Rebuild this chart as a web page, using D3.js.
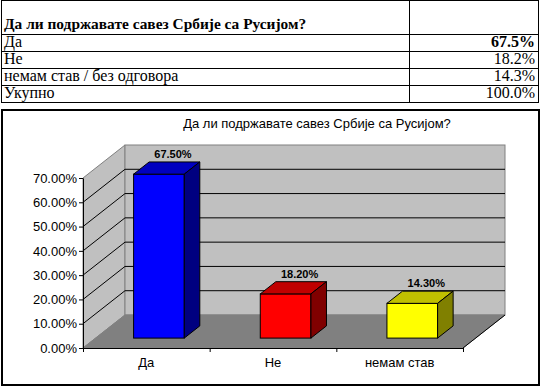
<!DOCTYPE html>
<html>
<head>
<meta charset="utf-8">
<script src="https://cdn.jsdelivr.net/npm/d3@7"></script>
<style>
  body { margin: 0; background: #fff; }
  svg { display: block; }
</style>
</head>
<body>
<div id="chart"></div>
<script>
// table data
var tableTitle = "Да ли подржавате савез Србије са Русијом?";
var tableLabels = ["Да", "Не", "немам став / без одговора", "Укупно"];
var tableValues = ["67.5%", "18.2%", "14.3%", "100.0%"];

// chart data
var chartTitle = "Да ли подржавате савез Србије са Русијом?";
var categories = ["Да", "Не", "немам став"];
var values = [67.5, 18.2, 14.3];
var yTicks = [0, 10, 20, 30, 40, 50, 60, 70];
var frontColors = ["#0000ff", "#ff0000", "#ffff00"];
var topColors = ["#0000c0", "#c00000", "#c0c000"];
var sideColors = ["#000080", "#800000", "#808000"];

var W = 545, H = 389;

var svg = d3.select("#chart").append("svg")
	.attr("width", W)
	.attr("height", H);

// ---- table ----
var rowY = [0, 34, 51, 68, 85, 102];
var tL = 1, tR = 538, tDiv = 409;
var tbl = svg.append("g").attr("font-family", "'Liberation Serif', 'Times New Roman', serif");

tbl.append("rect")
	.attr("x", tL + 0.5).attr("y", 0.5)
	.attr("width", tR - tL).attr("height", rowY[5])
	.attr("fill", "none").attr("stroke", "#000");

tbl.selectAll("line.row")
	.data(rowY.slice(1, 5))
	.enter().append("line")
		.attr("class", "row")
		.attr("x1", tL).attr("x2", tR + 1)
		.attr("y1", function(d) { return d + 0.5; })
		.attr("y2", function(d) { return d + 0.5; })
		.attr("stroke", "#000");

tbl.append("line")
	.attr("x1", tDiv + 0.5).attr("x2", tDiv + 0.5)
	.attr("y1", 0).attr("y2", rowY[5])
	.attr("stroke", "#000");

tbl.append("text")
	.attr("x", 4).attr("y", 29)
	.attr("font-size", 15.4).attr("font-weight", "bold")
	.text(tableTitle);

tbl.selectAll("text.lab")
	.data(tableLabels)
	.enter().append("text")
		.attr("class", "lab")
		.attr("x", 4)
		.attr("y", function(d, i) { return rowY[i + 1] + 13; })
		.attr("font-size", 16)
		.text(function(d) { return d; });

tbl.selectAll("text.val")
	.data(tableValues)
	.enter().append("text")
		.attr("class", "val")
		.attr("x", tR - 3)
		.attr("y", function(d, i) { return rowY[i + 1] + 13; })
		.attr("text-anchor", "end")
		.attr("font-size", 16)
		.attr("font-weight", function(d, i) { return i == 0 ? "bold" : "normal"; })
		.text(function(d) { return d; });

// ---- chart box ----
svg.append("rect")
	.attr("x", 2).attr("y", 110)
	.attr("width", 537).attr("height", 275)
	.attr("fill", "#fff")
	.attr("stroke", "#000")
	.attr("stroke-width", 2);

var g = svg.append("g").attr("font-family", "Arial, 'Liberation Sans', sans-serif");

g.append("text")
	.attr("x", 317).attr("y", 128)
	.attr("text-anchor", "middle")
	.attr("font-size", 13)
	.text(chartTitle);

// scales
var x = d3.scaleBand().domain(categories).range([83, 463]);
var y = d3.scaleLinear().domain([0, 70]).range([348, 178]);
var DX = 42, DY = 33; // depth of the 3d box
function px(xv, d) { return xv + d * DX; }
function py(yv, d) { return yv - d * DY; }

var x0 = x.range()[0], x1 = x.range()[1];
var yb = y(0), yt = y(70);

// walls and floor
g.append("polygon")
	.attr("points", [[x0, yb], [px(x0, 1), py(yb, 1)], [px(x0, 1), py(yt, 1)], [x0, yt]].join(" "))
	.attr("fill", "#c0c0c0").attr("stroke", "#808080");
g.append("rect")
	.attr("x", px(x0, 1)).attr("y", py(yt, 1))
	.attr("width", x1 - x0).attr("height", yb - yt)
	.attr("fill", "#c0c0c0").attr("stroke", "#808080");
g.append("polygon")
	.attr("points", [[x0, yb], [px(x0, 1), py(yb, 1)], [px(x1, 1), py(yb, 1)], [x1, yb]].join(" "))
	.attr("fill", "#808080").attr("stroke", "#808080");

// gridlines
var grid = yTicks.filter(function(t) { return t > 0 && t < 70; });
g.selectAll("line.gback")
	.data(grid)
	.enter().append("line")
		.attr("x1", px(x0, 1)).attr("x2", px(x1, 1))
		.attr("y1", function(d) { return py(y(d), 1); })
		.attr("y2", function(d) { return py(y(d), 1); })
		.attr("stroke", "#000");
g.selectAll("line.gside")
	.data(grid)
	.enter().append("line")
		.attr("x1", x0).attr("x2", px(x0, 1))
		.attr("y1", function(d) { return y(d); })
		.attr("y2", function(d) { return py(y(d), 1); })
		.attr("stroke", "#000");

// right floor edge
g.append("line")
	.attr("x1", x1).attr("y1", yb)
	.attr("x2", px(x1, 1)).attr("y2", py(yb, 1))
	.attr("stroke", "#000");

// y axis
var yAxis = d3.axisLeft(y)
	.tickValues(yTicks)
	.tickSize(4)
	.tickSizeOuter(0)
	.tickPadding(2)
	.tickFormat(function(d) { return d.toFixed(2) + "%"; });
var ya = g.append("g").attr("transform", "translate(" + x0 + ",0)").call(yAxis);
ya.select(".domain").attr("stroke", "#000");
ya.selectAll("text").attr("font-size", 13).attr("font-family", "Arial, 'Liberation Sans', sans-serif").attr("fill", "#000");

// x axis
g.append("line")
	.attr("x1", x0).attr("x2", x1)
	.attr("y1", yb + 0.5).attr("y2", yb + 0.5)
	.attr("stroke", "#000");
g.selectAll("line.xt")
	.data(categories.map(function(c) { return x(c); }).concat([x1]))
	.enter().append("line")
		.attr("x1", function(d) { return d + 0.5; })
		.attr("x2", function(d) { return d + 0.5; })
		.attr("y1", yb).attr("y2", yb + 4)
		.attr("stroke", "#000");
g.selectAll("text.xl")
	.data(categories)
	.enter().append("text")
		.attr("x", function(d) { return x(d) + x.bandwidth() / 2; })
		.attr("y", yb + 19)
		.attr("text-anchor", "middle")
		.attr("font-size", 13)
		.text(function(d) { return d; });

// bars
var dFront = 0.3, dBack = 0.67;
var bw = x.bandwidth() * 0.4;
var bars = g.selectAll("g.bar")
	.data(values)
	.enter().append("g").attr("class", "bar");

function fx(i) { return px(x(categories[i]) + x.bandwidth() / 2, dFront) - bw / 2; }
function fyb() { return py(y(0), dFront); }
function fyt(v) { return py(y(v), dFront); }
var ddx = (dBack - dFront) * DX, ddy = (dBack - dFront) * DY;

bars.append("rect")
	.attr("x", function(d, i) { return fx(i); })
	.attr("y", function(d) { return fyt(d); })
	.attr("width", bw)
	.attr("height", function(d) { return fyb() - fyt(d); })
	.attr("fill", function(d, i) { return frontColors[i]; })
	.attr("stroke", "#000");
bars.append("polygon")
	.attr("points", function(d, i) {
		var a = fx(i), t = fyt(d);
		return [[a, t], [a + ddx, t - ddy], [a + bw + ddx, t - ddy], [a + bw, t]].join(" ");
	})
	.attr("fill", function(d, i) { return topColors[i]; })
	.attr("stroke", "#000");
bars.append("polygon")
	.attr("points", function(d, i) {
		var a = fx(i) + bw, t = fyt(d), b = fyb();
		return [[a, t], [a + ddx, t - ddy], [a + ddx, b - ddy], [a, b]].join(" ");
	})
	.attr("fill", function(d, i) { return sideColors[i]; })
	.attr("stroke", "#000");

bars.append("text")
	.attr("x", function(d, i) { return fx(i) + bw / 2 + 14; })
	.attr("y", function(d) { return fyt(d) - ddy - 4; })
	.attr("text-anchor", "middle")
	.attr("font-size", 11)
	.attr("font-weight", "bold")
	.text(function(d) { return d.toFixed(2) + "%"; });
</script>
</body>
</html>
